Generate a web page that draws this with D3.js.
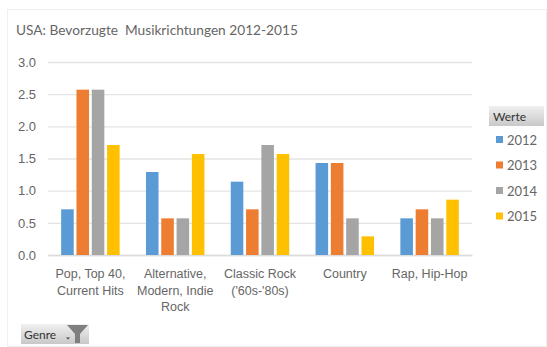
<!DOCTYPE html>
<html>
<head>
<meta charset="utf-8">
<script src="https://cdnjs.cloudflare.com/ajax/libs/d3/7.8.5/d3.min.js"></script>
<style>
html,body{margin:0;padding:0;background:#fff}
svg{display:block;font-family:Lato,"Open Sans",sans-serif}
</style>
</head>
<body>
<svg id="chart" width="547" height="347"></svg>
<script>
const genres = ["Pop, Top 40, Current Hits", "Alternative, Modern, Indie Rock", "Classic Rock ('60s-'80s)", "Country", "Rap, Hip-Hop"];
const genreLines = [["Pop, Top 40,", "Current Hits"], ["Alternative,", "Modern, Indie", "Rock"], ["Classic Rock", "('60s-'80s)"], ["Country"], ["Rap, Hip-Hop"]];
const years = ["2012", "2013", "2014", "2015"];
const colors = ["#5b9bd5", "#ed7d31", "#a5a5a5", "#ffc000"];
const values2012 = [0.71, 1.29, 1.14, 1.43, 0.57];
const values2013 = [2.57, 0.57, 0.71, 1.43, 0.71];
const values2014 = [2.57, 0.57, 1.71, 0.57, 0.57];
const values2015 = [1.71, 1.57, 1.57, 0.29, 0.86];
const yTicks = [0, 0.5, 1, 1.5, 2, 2.5, 3];
const seriesValues = [values2012, values2013, values2014, values2015];

const svg = d3.select("#chart");

// Chart area outline
svg.append("rect").attr("x", 7.5).attr("y", 9.5).attr("width", 539).attr("height", 337)
  .attr("fill", "#fff").attr("stroke", "#f0f0f0");

svg.append("text").attr("x", 16).attr("y", 35).attr("font-size", 13.7).attr("fill", "#666")
  .style("white-space", "pre")
  .text("USA: Bevorzugte  Musikrichtungen 2012-2015");

const x = d3.scaleBand().domain(genres).range([48, 472]);
const y = d3.scaleLinear().domain([0, 3]).range([255, 62]);
const inner = d3.scaleBand().domain(years).range([0, x.bandwidth()]).paddingInner(0.18).paddingOuter(0.86);

// Value axis with full-width gridlines
const yAxis = svg.append("g").attr("transform", "translate(48,0)")
  .call(d3.axisLeft(y).tickValues(yTicks).tickFormat(d3.format(".1f")).tickSize(-424).tickPadding(12));
yAxis.select(".domain").remove();
yAxis.selectAll("line").attr("stroke", "#e4e4e4").attr("stroke-width", 1.3);
yAxis.selectAll("text").attr("font-size", 13).attr("fill", "#666").attr("x", -12);

// Category axis; labels are replaced by wrapped lines
const xAxis = svg.append("g").attr("transform", "translate(0,255)")
  .call(d3.axisBottom(x).tickSize(0).tickFormat(""));
xAxis.select(".domain").attr("stroke", "#dcdcdc").attr("stroke-width", 1.3);
xAxis.selectAll(".tick text").each(function (d, i) {
  const t = d3.select(this).attr("y", 0).attr("dy", null).attr("font-size", 12.5).attr("fill", "#666");
  t.selectAll("tspan").data(genreLines[i]).join("tspan")
    .attr("x", 0).attr("y", (_, k) => 23 + k * 16.6).text(s => s);
});

// Clustered bars
years.forEach((year, s) => {
  svg.append("g").selectAll("rect").data(seriesValues[s]).join("rect")
    .attr("x", (_, i) => x(genres[i]) + inner(year))
    .attr("y", d => y(d))
    .attr("width", inner.bandwidth())
    .attr("height", d => y(0) - y(d))
    .attr("fill", colors[s]);
});

// Legend with its field button
const grad = svg.append("defs").append("linearGradient").attr("id", "btn").attr("x2", 0).attr("y2", 1);
grad.append("stop").attr("offset", 0).attr("stop-color", "#f0f0f0");
grad.append("stop").attr("offset", 1).attr("stop-color", "#c8c8c8");

svg.append("rect").attr("x", 489).attr("y", 106).attr("width", 55).attr("height", 20).attr("fill", "url(#btn)");
svg.append("text").attr("x", 493).attr("y", 120.5).attr("font-size", 12).attr("fill", "#333").text("Werte");

const legend = svg.append("g").selectAll("g").data(years).join("g")
  .attr("transform", (_, i) => `translate(496,${140 + i * 25.5})`);
legend.append("rect").attr("y", -4).attr("width", 7).attr("height", 7).attr("fill", (_, i) => colors[i]);
legend.append("text").attr("x", 11).attr("y", 4.5).attr("font-size", 13).attr("fill", "#666").text(d => d);

// Filter button
svg.append("rect").attr("x", 21).attr("y", 324).attr("width", 68).attr("height", 20).attr("fill", "url(#btn)");
svg.append("text").attr("x", 24).attr("y", 339).attr("font-size", 12).attr("fill", "#333").text("Genre");
svg.append("path").attr("d", "M66,337.5h4l-2,2z").attr("fill", "#444");
svg.append("path").attr("d", "M67,325H88L80,334V343H75V334Z").attr("fill", "#7f7f7f");
</script>
</body>
</html>
